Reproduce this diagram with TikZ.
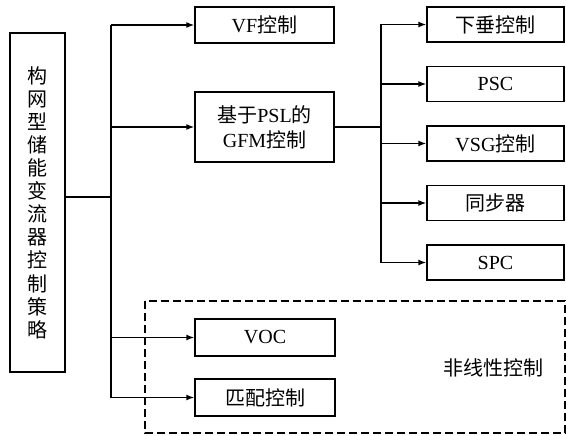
\documentclass[tikz,border=0pt]{standalone}
\usepackage{fontspec}
\setmainfont{Liberation Serif}
\newfontfamily\cjk{Noto Sans CJK SC}
\usetikzlibrary{arrows.meta}
\begin{document}
\begin{tikzpicture}[x=1pt,y=-1pt,
    blk/.style={draw,line width=1.4pt,inner sep=0pt,minimum width=139pt,minimum height=36pt,
      align=center,font=\fontsize{20}{25}\selectfont},
    ln/.style={line width=1.4pt},
    arr/.style={ln,-{Latex[length=8pt,width=6pt]}}]
  \useasboundingbox (0,0) rectangle (566,436);
  % root box, text stacked vertically
  \node[blk,minimum width=55pt,minimum height=339pt,font=\fontsize{20}{23.1}\selectfont\cjk]
    (root) at (37.5,202.5) {构\\网\\型\\储\\能\\变\\流\\器\\控\\制\\策\\略};
  % first level
  \node[blk] (vf) at (264.5,25) {VF{\cjk 控制}};
  \node[blk,minimum height=70pt] (gfm) at (264.5,127) {{\cjk 基于}PSL{\cjk 的}\\GFM{\cjk 控制}};
  \node[blk,minimum width=140pt,minimum height=37pt] (voc) at (265,337.5) {VOC};
  \node[blk,minimum width=140pt,minimum height=37pt] (pm) at (265,397.5) {\cjk 匹配控制};
  % second level
  \foreach [count = \i] \t in {{\cjk 下垂控制},PSC,{VSG\cjk 控制},{\cjk 同步器},SPC}
    \node[blk,minimum width=137pt,minimum height=35pt] (r\i) at (495.5,{24.5+59.5*(\i-1)}) {\t};
  % connectors
  \coordinate (t1) at (111,197);
  \coordinate (t2) at (381,127);
  \draw[ln] (root.east |- t1) -- (t1);
  \draw[ln] (t1 |- vf) -- (t1 |- pm);
  \foreach \n in {vf,gfm,voc,pm}
    \draw[arr] (t1 |- \n) -- (\n.west);
  \draw[ln] (gfm.east) -- (t2);
  \draw[ln] (t2 |- r1) -- (t2 |- r5);
  \foreach \i in {1,...,5}
    \draw[arr] (t2 |- r\i) -- (r\i.west);
  % nonlinear group
  \draw[line width=1.3pt,dash pattern=on 8pt off 4pt] (145,301) rectangle (565,433);
  \node[font=\fontsize{20}{25}\selectfont\cjk] (nl) at (493,368) {非线性控制};
\end{tikzpicture}
\end{document}
